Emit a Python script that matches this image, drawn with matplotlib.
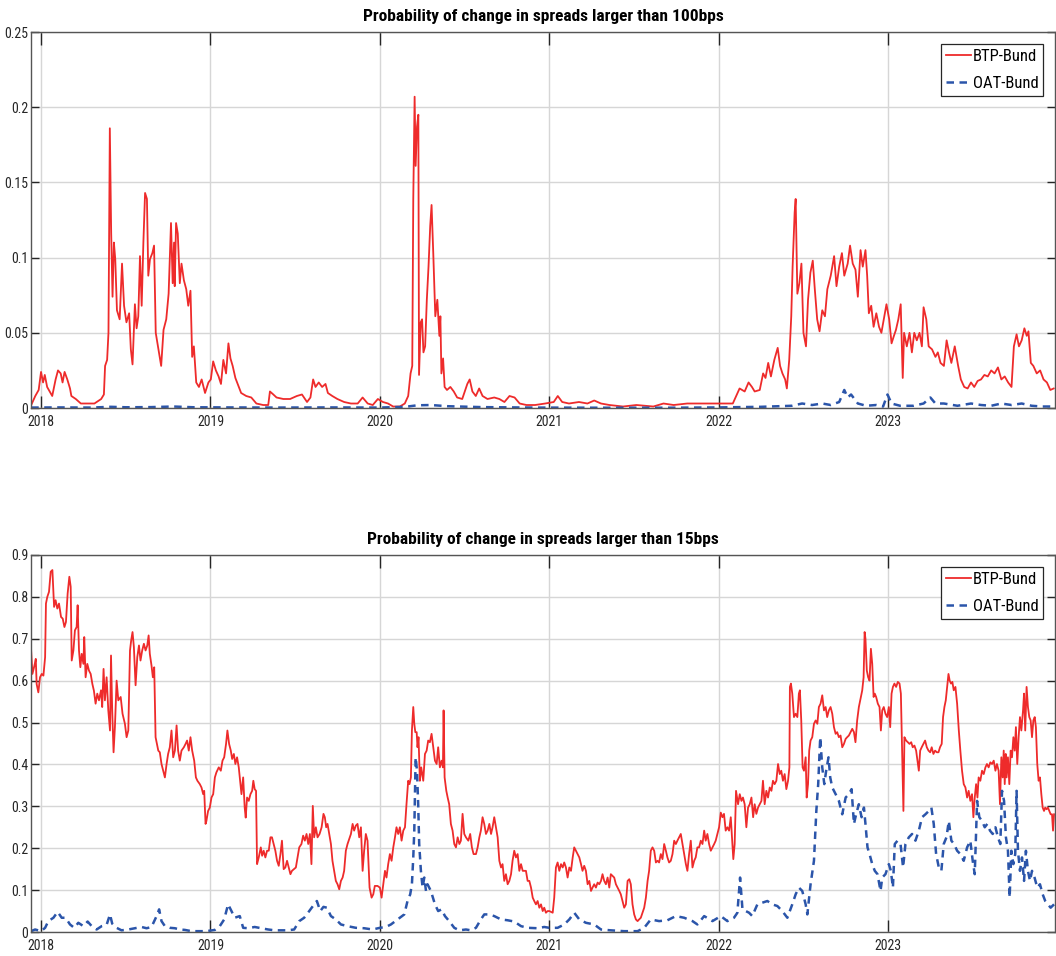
import numpy as np
import matplotlib
matplotlib.use("Agg")
from matplotlib import pyplot as plt
from matplotlib.ticker import FuncFormatter

plt.rcParams['font.family'] = ['Roboto Condensed', 'Archivo Narrow', 'DejaVu Sans']
title_fonts = ['Roboto Condensed', 'IBM Plex Sans Condensed', 'DejaVu Sans']

# time axis in decimal years
# --- probability of a change larger than 100bps ---
t_btp_100 = [
    2017.942, 2017.966, 2017.986, 2018.000, 2018.012, 2018.022, 2018.036, 2018.056, 2018.066, 2018.086,
    2018.100, 2018.116, 2018.127, 2018.139, 2018.155, 2018.171, 2018.179, 2018.205, 2018.235, 2018.275,
    2018.315, 2018.355, 2018.371, 2018.378, 2018.390, 2018.398, 2018.406, 2018.414, 2018.422, 2018.430,
    2018.438, 2018.448, 2018.464, 2018.478, 2018.490, 2018.504, 2018.520, 2018.530, 2018.540, 2018.554,
    2018.564, 2018.574, 2018.584, 2018.594, 2018.604, 2018.614, 2018.625, 2018.633, 2018.643, 2018.657,
    2018.667, 2018.677, 2018.693, 2018.709, 2018.723, 2018.739, 2018.753, 2018.767, 2018.777, 2018.785,
    2018.789, 2018.797, 2018.807, 2018.819, 2018.829, 2018.843, 2018.857, 2018.869, 2018.882, 2018.892,
    2018.902, 2018.916, 2018.932, 2018.948, 2018.968, 2018.988, 2019.002, 2019.016, 2019.032, 2019.048,
    2019.062, 2019.076, 2019.092, 2019.106, 2019.118, 2019.131, 2019.147, 2019.167, 2019.181, 2019.211,
    2019.241, 2019.271, 2019.311, 2019.341, 2019.351, 2019.371, 2019.390, 2019.430, 2019.470, 2019.510,
    2019.540, 2019.570, 2019.590, 2019.606, 2019.620, 2019.639, 2019.659, 2019.679, 2019.693, 2019.719,
    2019.749, 2019.789, 2019.829, 2019.869, 2019.898, 2019.928, 2019.958, 2019.988, 2020.018, 2020.048,
    2020.078, 2020.118, 2020.147, 2020.167, 2020.181, 2020.191, 2020.197, 2020.205, 2020.211, 2020.219,
    2020.227, 2020.231, 2020.241, 2020.249, 2020.257, 2020.267, 2020.277, 2020.287, 2020.297, 2020.305,
    2020.315, 2020.327, 2020.339, 2020.351, 2020.357, 2020.363, 2020.373, 2020.382, 2020.396, 2020.416,
    2020.436, 2020.456, 2020.486, 2020.516, 2020.530, 2020.546, 2020.566, 2020.586, 2020.606, 2020.635,
    2020.675, 2020.705, 2020.735, 2020.765, 2020.795, 2020.825, 2020.865, 2020.916, 2020.976, 2021.026,
    2021.050, 2021.076, 2021.116, 2021.175, 2021.225, 2021.265, 2021.305, 2021.355, 2021.435, 2021.514,
    2021.614, 2021.674, 2021.734, 2021.814, 2021.893, 2021.973, 2022.053, 2022.083, 2022.103, 2022.123,
    2022.153, 2022.176, 2022.196, 2022.212, 2022.242, 2022.262, 2022.276, 2022.292, 2022.308, 2022.328,
    2022.348, 2022.362, 2022.376, 2022.392, 2022.402, 2022.416, 2022.428, 2022.436, 2022.448, 2022.454,
    2022.464, 2022.476, 2022.488, 2022.500, 2022.515, 2022.527, 2022.541, 2022.555, 2022.567, 2022.581,
    2022.595, 2022.611, 2022.627, 2022.641, 2022.661, 2022.681, 2022.695, 2022.711, 2022.727, 2022.741,
    2022.761, 2022.775, 2022.791, 2022.807, 2022.821, 2022.837, 2022.850, 2022.866, 2022.876, 2022.886,
    2022.900, 2022.914, 2022.930, 2022.946, 2022.960, 2022.974, 2022.990, 2023.006, 2023.020, 2023.034,
    2023.046, 2023.060, 2023.074, 2023.086, 2023.094, 2023.110, 2023.126, 2023.140, 2023.154, 2023.169,
    2023.185, 2023.199, 2023.209, 2023.225, 2023.239, 2023.259, 2023.279, 2023.293, 2023.309, 2023.329,
    2023.345, 2023.359, 2023.373, 2023.393, 2023.413, 2023.429, 2023.449, 2023.469, 2023.489, 2023.508,
    2023.528, 2023.548, 2023.568, 2023.588, 2023.608, 2023.628, 2023.648, 2023.668, 2023.688, 2023.708,
    2023.728, 2023.742, 2023.758, 2023.772, 2023.788, 2023.804, 2023.818, 2023.828, 2023.842, 2023.857,
    2023.877, 2023.897, 2023.917, 2023.937, 2023.957, 2023.977,
]
btp_100 = [
    0.002, 0.008, 0.012, 0.024, 0.017, 0.022, 0.014, 0.010, 0.008, 0.019,
    0.025, 0.023, 0.017, 0.024, 0.019, 0.013, 0.008, 0.006, 0.003, 0.003,
    0.003, 0.006, 0.009, 0.028, 0.032, 0.050, 0.186, 0.116, 0.074, 0.110,
    0.099, 0.065, 0.059, 0.096, 0.068, 0.057, 0.063, 0.039, 0.029, 0.069,
    0.053, 0.061, 0.101, 0.068, 0.110, 0.143, 0.139, 0.088, 0.099, 0.103,
    0.108, 0.050, 0.039, 0.028, 0.052, 0.059, 0.076, 0.123, 0.083, 0.110,
    0.081, 0.123, 0.116, 0.083, 0.096, 0.085, 0.079, 0.068, 0.078, 0.034,
    0.041, 0.017, 0.014, 0.019, 0.010, 0.017, 0.019, 0.031, 0.025, 0.021,
    0.016, 0.032, 0.023, 0.043, 0.033, 0.028, 0.020, 0.014, 0.010, 0.008,
    0.007, 0.003, 0.002, 0.002, 0.011, 0.009, 0.007, 0.006, 0.006, 0.008,
    0.009, 0.004, 0.007, 0.019, 0.014, 0.017, 0.014, 0.016, 0.010, 0.008,
    0.006, 0.004, 0.003, 0.003, 0.007, 0.003, 0.002, 0.006, 0.004, 0.003,
    0.001, 0.001, 0.003, 0.008, 0.023, 0.028, 0.139, 0.207, 0.161, 0.187,
    0.195, 0.022, 0.057, 0.059, 0.037, 0.041, 0.072, 0.094, 0.121, 0.135,
    0.103, 0.061, 0.072, 0.048, 0.061, 0.023, 0.033, 0.014, 0.012, 0.014,
    0.011, 0.007, 0.006, 0.016, 0.019, 0.011, 0.008, 0.013, 0.008, 0.006,
    0.007, 0.006, 0.004, 0.008, 0.007, 0.003, 0.002, 0.002, 0.003, 0.004,
    0.008, 0.004, 0.003, 0.004, 0.003, 0.005, 0.003, 0.002, 0.001, 0.002,
    0.001, 0.003, 0.002, 0.003, 0.003, 0.003, 0.003, 0.003, 0.008, 0.013,
    0.011, 0.017, 0.014, 0.011, 0.012, 0.023, 0.020, 0.030, 0.021, 0.032,
    0.040, 0.028, 0.023, 0.019, 0.013, 0.032, 0.061, 0.094, 0.130, 0.139,
    0.076, 0.083, 0.096, 0.050, 0.041, 0.072, 0.090, 0.098, 0.079, 0.059,
    0.051, 0.065, 0.061, 0.079, 0.088, 0.101, 0.081, 0.094, 0.103, 0.088,
    0.096, 0.108, 0.096, 0.092, 0.074, 0.105, 0.094, 0.105, 0.088, 0.063,
    0.068, 0.054, 0.063, 0.054, 0.050, 0.059, 0.069, 0.059, 0.043, 0.048,
    0.052, 0.059, 0.069, 0.020, 0.050, 0.041, 0.050, 0.037, 0.050, 0.045,
    0.050, 0.041, 0.067, 0.059, 0.041, 0.039, 0.034, 0.037, 0.030, 0.028,
    0.045, 0.037, 0.030, 0.041, 0.028, 0.019, 0.014, 0.013, 0.017, 0.014,
    0.018, 0.019, 0.022, 0.021, 0.025, 0.023, 0.027, 0.019, 0.021, 0.017,
    0.014, 0.041, 0.049, 0.041, 0.045, 0.053, 0.048, 0.051, 0.030, 0.028,
    0.023, 0.025, 0.019, 0.017, 0.012, 0.013,
]

t_oat_100 = [
    2017.942, 2018.100, 2018.300, 2018.410, 2018.500, 2018.650, 2018.780, 2018.900, 2019.100, 2019.400,
    2019.700, 2020.000, 2020.150, 2020.220, 2020.300, 2020.400, 2020.600, 2020.900, 2021.300, 2021.700,
    2022.000, 2022.250, 2022.432, 2022.492, 2022.551, 2022.611, 2022.661, 2022.711, 2022.741, 2022.761,
    2022.781, 2022.821, 2022.870, 2022.930, 2022.970, 2022.996, 2023.020, 2023.070, 2023.150, 2023.209,
    2023.249, 2023.279, 2023.329, 2023.409, 2023.489, 2023.548, 2023.608, 2023.668, 2023.728, 2023.788,
    2023.847, 2023.907, 2023.977,
]
oat_100 = [
    0.0003, 0.0004, 0.0003, 0.0008, 0.0005, 0.0006, 0.0010, 0.0005, 0.0004, 0.0003,
    0.0004, 0.0003, 0.0008, 0.0018, 0.0020, 0.0012, 0.0006, 0.0003, 0.0002, 0.0002,
    0.0004, 0.0008, 0.0015, 0.003, 0.002, 0.003, 0.002, 0.004, 0.012, 0.007,
    0.009, 0.003, 0.0015, 0.002, 0.001, 0.009, 0.003, 0.0015, 0.0015, 0.003,
    0.007, 0.003, 0.003, 0.0015, 0.003, 0.002, 0.0015, 0.003, 0.002, 0.003,
    0.0015, 0.001, 0.001,
]

# --- probability of a change larger than 15bps ---
t_btp_15 = [
    2017.941, 2017.949, 2017.961, 2017.969, 2017.974, 2017.984, 2017.994, 2018.004, 2018.014, 2018.024,
    2018.029, 2018.037, 2018.047, 2018.057, 2018.067, 2018.077, 2018.086, 2018.096, 2018.106, 2018.118,
    2018.128, 2018.138, 2018.147, 2018.157, 2018.167, 2018.175, 2018.181, 2018.191, 2018.200, 2018.210,
    2018.216, 2018.224, 2018.232, 2018.240, 2018.250, 2018.255, 2018.263, 2018.273, 2018.283, 2018.293,
    2018.303, 2018.312, 2018.322, 2018.332, 2018.342, 2018.354, 2018.361, 2018.369, 2018.377, 2018.387,
    2018.397, 2018.407, 2018.413, 2018.420, 2018.428, 2018.436, 2018.446, 2018.456, 2018.470, 2018.481,
    2018.495, 2018.505, 2018.515, 2018.525, 2018.532, 2018.540, 2018.548, 2018.558, 2018.568, 2018.578,
    2018.587, 2018.597, 2018.607, 2018.617, 2018.627, 2018.635, 2018.642, 2018.652, 2018.660, 2018.668,
    2018.676, 2018.684, 2018.692, 2018.701, 2018.711, 2018.721, 2018.731, 2018.741, 2018.750, 2018.760,
    2018.770, 2018.780, 2018.790, 2018.800, 2018.809, 2018.819, 2018.829, 2018.843, 2018.853, 2018.862,
    2018.872, 2018.882, 2018.892, 2018.904, 2018.914, 2018.923, 2018.937, 2018.947, 2018.957, 2018.963,
    2018.971, 2018.976, 2018.986, 2018.996, 2019.006, 2019.016, 2019.026, 2019.035, 2019.049, 2019.061,
    2019.071, 2019.081, 2019.092, 2019.100, 2019.110, 2019.120, 2019.128, 2019.138, 2019.147, 2019.157,
    2019.167, 2019.177, 2019.183, 2019.193, 2019.202, 2019.208, 2019.216, 2019.226, 2019.236, 2019.246,
    2019.253, 2019.261, 2019.269, 2019.275, 2019.285, 2019.297, 2019.305, 2019.314, 2019.324, 2019.334,
    2019.344, 2019.354, 2019.363, 2019.373, 2019.383, 2019.393, 2019.403, 2019.413, 2019.422, 2019.432,
    2019.442, 2019.452, 2019.462, 2019.472, 2019.481, 2019.504, 2019.514, 2019.524, 2019.537, 2019.547,
    2019.557, 2019.567, 2019.577, 2019.587, 2019.596, 2019.604, 2019.612, 2019.622, 2019.632, 2019.644,
    2019.656, 2019.667, 2019.675, 2019.683, 2019.691, 2019.701, 2019.711, 2019.720, 2019.730, 2019.740,
    2019.750, 2019.760, 2019.770, 2019.780, 2019.789, 2019.799, 2019.809, 2019.819, 2019.829, 2019.839,
    2019.848, 2019.858, 2019.868, 2019.878, 2019.888, 2019.898, 2019.907, 2019.917, 2019.927, 2019.939,
    2019.951, 2019.961, 2019.970, 2019.986, 2020.000, 2020.010, 2020.020, 2020.030, 2020.039, 2020.049,
    2020.059, 2020.069, 2020.079, 2020.089, 2020.098, 2020.108, 2020.118, 2020.128, 2020.138, 2020.148,
    2020.157, 2020.167, 2020.175, 2020.183, 2020.189, 2020.197, 2020.203, 2020.209, 2020.217, 2020.222,
    2020.228, 2020.236, 2020.244, 2020.256, 2020.266, 2020.276, 2020.285, 2020.295, 2020.305, 2020.315,
    2020.325, 2020.335, 2020.344, 2020.354, 2020.364, 2020.372, 2020.376, 2020.382, 2020.392, 2020.400,
    2020.409, 2020.419, 2020.429, 2020.439, 2020.449, 2020.459, 2020.469, 2020.478, 2020.488, 2020.498,
    2020.508, 2020.522, 2020.533, 2020.543, 2020.553, 2020.567, 2020.577, 2020.587, 2020.596, 2020.606,
    2020.616, 2020.626, 2020.636, 2020.646, 2020.656, 2020.665, 2020.675, 2020.685, 2020.695, 2020.705,
    2020.715, 2020.724, 2020.734, 2020.744, 2020.754, 2020.764, 2020.774, 2020.783, 2020.793, 2020.803,
    2020.813, 2020.823, 2020.833, 2020.843, 2020.852, 2020.862, 2020.872, 2020.882, 2020.892, 2020.902,
    2020.911, 2020.921, 2020.931, 2020.941, 2020.951, 2020.961, 2020.970, 2020.980, 2020.990, 2021.000,
    2021.020, 2021.029, 2021.039, 2021.049, 2021.059, 2021.069, 2021.079, 2021.088, 2021.098, 2021.108,
    2021.118, 2021.128, 2021.138, 2021.147, 2021.157, 2021.167, 2021.177, 2021.187, 2021.196, 2021.206,
    2021.216, 2021.226, 2021.236, 2021.246, 2021.255, 2021.265, 2021.275, 2021.285, 2021.295, 2021.305,
    2021.314, 2021.324, 2021.334, 2021.344, 2021.354, 2021.363, 2021.373, 2021.383, 2021.393, 2021.403,
    2021.413, 2021.422, 2021.432, 2021.442, 2021.452, 2021.462, 2021.472, 2021.481, 2021.491, 2021.501,
    2021.511, 2021.521, 2021.530, 2021.540, 2021.550, 2021.560, 2021.570, 2021.580, 2021.589, 2021.599,
    2021.609, 2021.619, 2021.629, 2021.639, 2021.648, 2021.658, 2021.668, 2021.678, 2021.688, 2021.697,
    2021.707, 2021.717, 2021.727, 2021.737, 2021.747, 2021.756, 2021.766, 2021.776, 2021.786, 2021.796,
    2021.806, 2021.815, 2021.825, 2021.835, 2021.845, 2021.855, 2021.864, 2021.874, 2021.884, 2021.894,
    2021.904, 2021.914, 2021.923, 2021.933, 2021.943, 2021.953, 2021.963, 2021.973, 2021.982, 2021.992,
    2022.002, 2022.012, 2022.022, 2022.031, 2022.041, 2022.051, 2022.061, 2022.071, 2022.081, 2022.086,
    2022.094, 2022.102, 2022.114, 2022.124, 2022.134, 2022.143, 2022.153, 2022.163, 2022.173, 2022.183,
    2022.193, 2022.203, 2022.212, 2022.222, 2022.232, 2022.242, 2022.252, 2022.261, 2022.271, 2022.281,
    2022.291, 2022.301, 2022.311, 2022.320, 2022.330, 2022.340, 2022.350, 2022.360, 2022.369, 2022.379,
    2022.389, 2022.399, 2022.409, 2022.417, 2022.420, 2022.426, 2022.434, 2022.444, 2022.454, 2022.464,
    2022.473, 2022.479, 2022.487, 2022.495, 2022.503, 2022.513, 2022.519, 2022.527, 2022.534, 2022.542,
    2022.552, 2022.562, 2022.572, 2022.582, 2022.591, 2022.601, 2022.611, 2022.621, 2022.631, 2022.640,
    2022.650, 2022.660, 2022.670, 2022.680, 2022.690, 2022.699, 2022.709, 2022.719, 2022.729, 2022.739,
    2022.749, 2022.758, 2022.768, 2022.778, 2022.788, 2022.798, 2022.807, 2022.817, 2022.827, 2022.837,
    2022.847, 2022.855, 2022.861, 2022.866, 2022.874, 2022.882, 2022.890, 2022.898, 2022.906, 2022.914,
    2022.921, 2022.929, 2022.939, 2022.949, 2022.957, 2022.965, 2022.974, 2022.984, 2022.994, 2023.004,
    2023.012, 2023.020, 2023.028, 2023.037, 2023.047, 2023.057, 2023.067, 2023.075, 2023.083, 2023.090,
    2023.096, 2023.106, 2023.116, 2023.126, 2023.136, 2023.145, 2023.155, 2023.165, 2023.173, 2023.181,
    2023.189, 2023.198, 2023.208, 2023.218, 2023.228, 2023.238, 2023.248, 2023.257, 2023.267, 2023.277,
    2023.287, 2023.297, 2023.306, 2023.316, 2023.324, 2023.332, 2023.340, 2023.348, 2023.356, 2023.363,
    2023.371, 2023.379, 2023.387, 2023.397, 2023.407, 2023.417, 2023.426, 2023.436, 2023.446, 2023.456,
    2023.466, 2023.475, 2023.485, 2023.495, 2023.503, 2023.511, 2023.519, 2023.527, 2023.534, 2023.544,
    2023.554, 2023.564, 2023.574, 2023.583, 2023.593, 2023.603, 2023.613, 2023.623, 2023.633, 2023.642,
    2023.652, 2023.660, 2023.668, 2023.676, 2023.682, 2023.688, 2023.694, 2023.699, 2023.707, 2023.715,
    2023.723, 2023.731, 2023.739, 2023.747, 2023.754, 2023.762, 2023.770, 2023.778, 2023.786, 2023.796,
    2023.802, 2023.809, 2023.817, 2023.825, 2023.833, 2023.841, 2023.849, 2023.857, 2023.865, 2023.872,
    2023.880, 2023.888, 2023.896, 2023.904, 2023.912, 2023.920, 2023.927, 2023.935, 2023.943, 2023.951,
    2023.959, 2023.967, 2023.973, 2023.979,
]
btp_15 = [
    0.676, 0.616, 0.636, 0.652, 0.592, 0.572, 0.608, 0.616, 0.612, 0.656,
    0.784, 0.800, 0.812, 0.860, 0.864, 0.776, 0.792, 0.772, 0.784, 0.752,
    0.748, 0.728, 0.740, 0.808, 0.848, 0.824, 0.648, 0.672, 0.720, 0.728,
    0.780, 0.672, 0.632, 0.664, 0.640, 0.704, 0.608, 0.640, 0.624, 0.616,
    0.592, 0.576, 0.545, 0.569, 0.553, 0.577, 0.537, 0.628, 0.553, 0.608,
    0.529, 0.481, 0.660, 0.529, 0.429, 0.489, 0.600, 0.553, 0.561, 0.521,
    0.497, 0.465, 0.481, 0.672, 0.696, 0.716, 0.680, 0.589, 0.656, 0.684,
    0.648, 0.672, 0.688, 0.672, 0.684, 0.708, 0.664, 0.636, 0.608, 0.632,
    0.465, 0.449, 0.433, 0.429, 0.401, 0.385, 0.369, 0.401, 0.425, 0.441,
    0.481, 0.417, 0.433, 0.493, 0.433, 0.409, 0.433, 0.441, 0.449, 0.457,
    0.433, 0.465, 0.433, 0.409, 0.369, 0.361, 0.353, 0.345, 0.329, 0.337,
    0.258, 0.265, 0.289, 0.297, 0.321, 0.329, 0.369, 0.381, 0.393, 0.385,
    0.409, 0.417, 0.449, 0.481, 0.449, 0.433, 0.413, 0.425, 0.401, 0.417,
    0.393, 0.353, 0.329, 0.369, 0.297, 0.273, 0.321, 0.313, 0.329, 0.337,
    0.361, 0.341, 0.337, 0.162, 0.178, 0.202, 0.182, 0.194, 0.178, 0.194,
    0.194, 0.226, 0.226, 0.210, 0.194, 0.170, 0.158, 0.186, 0.218, 0.150,
    0.154, 0.170, 0.154, 0.138, 0.146, 0.154, 0.178, 0.202, 0.210, 0.230,
    0.218, 0.234, 0.210, 0.234, 0.162, 0.301, 0.226, 0.250, 0.226, 0.234,
    0.250, 0.282, 0.274, 0.250, 0.258, 0.234, 0.210, 0.170, 0.146, 0.122,
    0.114, 0.102, 0.122, 0.130, 0.146, 0.194, 0.210, 0.222, 0.234, 0.258,
    0.242, 0.254, 0.258, 0.226, 0.250, 0.146, 0.194, 0.234, 0.218, 0.106,
    0.082, 0.090, 0.110, 0.110, 0.106, 0.082, 0.114, 0.146, 0.130, 0.162,
    0.186, 0.170, 0.202, 0.226, 0.250, 0.234, 0.250, 0.218, 0.242, 0.250,
    0.305, 0.361, 0.353, 0.369, 0.481, 0.537, 0.497, 0.477, 0.477, 0.441,
    0.465, 0.361, 0.393, 0.361, 0.425, 0.433, 0.457, 0.453, 0.473, 0.441,
    0.409, 0.401, 0.441, 0.393, 0.409, 0.393, 0.529, 0.369, 0.337, 0.321,
    0.305, 0.258, 0.242, 0.210, 0.202, 0.226, 0.210, 0.218, 0.282, 0.234,
    0.226, 0.218, 0.234, 0.202, 0.186, 0.186, 0.202, 0.226, 0.242, 0.274,
    0.258, 0.234, 0.242, 0.258, 0.234, 0.250, 0.274, 0.250, 0.226, 0.170,
    0.154, 0.162, 0.122, 0.138, 0.114, 0.122, 0.138, 0.170, 0.194, 0.178,
    0.186, 0.146, 0.162, 0.146, 0.146, 0.146, 0.122, 0.122, 0.106, 0.082,
    0.074, 0.066, 0.074, 0.058, 0.066, 0.050, 0.058, 0.046, 0.050, 0.050,
    0.046, 0.082, 0.154, 0.166, 0.146, 0.162, 0.154, 0.166, 0.154, 0.130,
    0.154, 0.146, 0.178, 0.202, 0.194, 0.186, 0.178, 0.162, 0.146, 0.158,
    0.146, 0.114, 0.122, 0.098, 0.106, 0.114, 0.106, 0.118, 0.114, 0.122,
    0.138, 0.122, 0.114, 0.130, 0.106, 0.138, 0.134, 0.130, 0.114, 0.106,
    0.098, 0.090, 0.074, 0.058, 0.066, 0.122, 0.126, 0.114, 0.066, 0.042,
    0.030, 0.026, 0.030, 0.034, 0.046, 0.058, 0.082, 0.122, 0.146, 0.194,
    0.202, 0.194, 0.166, 0.170, 0.166, 0.186, 0.174, 0.210, 0.194, 0.178,
    0.166, 0.170, 0.186, 0.218, 0.210, 0.218, 0.226, 0.234, 0.210, 0.186,
    0.162, 0.146, 0.186, 0.218, 0.154, 0.170, 0.178, 0.202, 0.202, 0.218,
    0.210, 0.242, 0.218, 0.234, 0.210, 0.194, 0.202, 0.210, 0.218, 0.234,
    0.250, 0.285, 0.274, 0.282, 0.242, 0.250, 0.242, 0.274, 0.210, 0.174,
    0.210, 0.337, 0.305, 0.329, 0.313, 0.321, 0.305, 0.250, 0.297, 0.305,
    0.321, 0.274, 0.305, 0.282, 0.297, 0.305, 0.313, 0.361, 0.305, 0.337,
    0.321, 0.345, 0.337, 0.361, 0.353, 0.361, 0.401, 0.377, 0.385, 0.361,
    0.377, 0.341, 0.361, 0.393, 0.585, 0.593, 0.569, 0.513, 0.521, 0.513,
    0.569, 0.577, 0.505, 0.393, 0.385, 0.417, 0.321, 0.353, 0.433, 0.457,
    0.465, 0.497, 0.505, 0.497, 0.537, 0.545, 0.565, 0.529, 0.537, 0.513,
    0.529, 0.537, 0.521, 0.489, 0.473, 0.477, 0.465, 0.469, 0.441, 0.449,
    0.461, 0.465, 0.469, 0.477, 0.485, 0.477, 0.453, 0.505, 0.537, 0.557,
    0.577, 0.608, 0.716, 0.700, 0.624, 0.608, 0.600, 0.676, 0.640, 0.561,
    0.569, 0.561, 0.545, 0.537, 0.481, 0.529, 0.537, 0.521, 0.513, 0.537,
    0.489, 0.569, 0.585, 0.593, 0.585, 0.597, 0.593, 0.569, 0.417, 0.289,
    0.465, 0.457, 0.453, 0.449, 0.453, 0.441, 0.445, 0.433, 0.409, 0.385,
    0.433, 0.441, 0.449, 0.457, 0.441, 0.433, 0.429, 0.441, 0.425, 0.433,
    0.429, 0.429, 0.441, 0.449, 0.513, 0.537, 0.553, 0.585, 0.616, 0.600,
    0.593, 0.597, 0.577, 0.585, 0.545, 0.481, 0.433, 0.385, 0.353, 0.345,
    0.321, 0.337, 0.313, 0.329, 0.274, 0.321, 0.353, 0.321, 0.369, 0.361,
    0.385, 0.377, 0.393, 0.401, 0.393, 0.405, 0.401, 0.409, 0.385, 0.401,
    0.385, 0.305, 0.417, 0.369, 0.433, 0.353, 0.425, 0.369, 0.417, 0.353,
    0.433, 0.417, 0.465, 0.433, 0.489, 0.401, 0.465, 0.513, 0.481, 0.529,
    0.569, 0.481, 0.585, 0.537, 0.513, 0.505, 0.465, 0.505, 0.513, 0.489,
    0.401, 0.361, 0.369, 0.329, 0.297, 0.289, 0.297, 0.293, 0.297, 0.289,
    0.281, 0.281, 0.242, 0.281,
]

t_oat_15 = [
    2017.941, 2017.965, 2018.000, 2018.024, 2018.043, 2018.073, 2018.098, 2018.122, 2018.145, 2018.171,
    2018.196, 2018.220, 2018.250, 2018.275, 2018.299, 2018.328, 2018.358, 2018.387, 2018.407, 2018.420,
    2018.446, 2018.475, 2018.515, 2018.554, 2018.593, 2018.623, 2018.652, 2018.682, 2018.697, 2018.711,
    2018.731, 2018.760, 2018.790, 2018.819, 2018.849, 2018.888, 2018.927, 2018.976, 2019.026, 2019.055,
    2019.081, 2019.104, 2019.124, 2019.143, 2019.173, 2019.193, 2019.222, 2019.261, 2019.301, 2019.340,
    2019.379, 2019.418, 2019.455, 2019.494, 2019.524, 2019.553, 2019.583, 2019.612, 2019.628, 2019.648,
    2019.667, 2019.687, 2019.711, 2019.740, 2019.770, 2019.809, 2019.858, 2019.907, 2019.957, 2020.000,
    2020.035, 2020.065, 2020.104, 2020.144, 2020.163, 2020.179, 2020.189, 2020.197, 2020.203, 2020.211,
    2020.219, 2020.226, 2020.232, 2020.242, 2020.252, 2020.262, 2020.272, 2020.281, 2020.301, 2020.325,
    2020.344, 2020.364, 2020.384, 2020.409, 2020.439, 2020.469, 2020.508, 2020.537, 2020.567, 2020.596,
    2020.616, 2020.646, 2020.675, 2020.715, 2020.754, 2020.793, 2020.833, 2020.872, 2020.931, 2020.970,
    2021.000, 2021.049, 2021.088, 2021.118, 2021.147, 2021.177, 2021.216, 2021.265, 2021.305, 2021.363,
    2021.442, 2021.521, 2021.560, 2021.599, 2021.648, 2021.697, 2021.747, 2021.796, 2021.845, 2021.874,
    2021.914, 2021.963, 2022.012, 2022.051, 2022.090, 2022.110, 2022.126, 2022.140, 2022.159, 2022.179,
    2022.198, 2022.228, 2022.257, 2022.287, 2022.316, 2022.346, 2022.375, 2022.405, 2022.434, 2022.454,
    2022.473, 2022.493, 2022.513, 2022.523, 2022.542, 2022.562, 2022.576, 2022.587, 2022.599, 2022.611,
    2022.623, 2022.634, 2022.648, 2022.658, 2022.670, 2022.690, 2022.709, 2022.729, 2022.749, 2022.768,
    2022.784, 2022.798, 2022.811, 2022.827, 2022.843, 2022.857, 2022.866, 2022.878, 2022.890, 2022.906,
    2022.921, 2022.937, 2022.955, 2022.965, 2022.984, 2023.004, 2023.016, 2023.028, 2023.039, 2023.055,
    2023.073, 2023.088, 2023.102, 2023.122, 2023.141, 2023.161, 2023.181, 2023.200, 2023.220, 2023.240,
    2023.255, 2023.269, 2023.283, 2023.299, 2023.314, 2023.328, 2023.344, 2023.358, 2023.373, 2023.389,
    2023.407, 2023.426, 2023.446, 2023.466, 2023.485, 2023.499, 2023.511, 2023.525, 2023.538, 2023.554,
    2023.570, 2023.585, 2023.601, 2023.617, 2023.633, 2023.648, 2023.662, 2023.672, 2023.684, 2023.695,
    2023.707, 2023.717, 2023.727, 2023.739, 2023.750, 2023.758, 2023.766, 2023.778, 2023.790, 2023.802,
    2023.813, 2023.825, 2023.837, 2023.849, 2023.864, 2023.880, 2023.896, 2023.912, 2023.927, 2023.943,
    2023.959, 2023.979,
]
oat_15 = [
    0.002, 0.006, 0.002, 0.010, 0.026, 0.034, 0.048, 0.034, 0.034, 0.018,
    0.010, 0.022, 0.014, 0.025, 0.014, 0.006, 0.014, 0.017, 0.042, 0.020,
    0.010, 0.004, 0.006, 0.009, 0.012, 0.009, 0.012, 0.038, 0.054, 0.026,
    0.014, 0.010, 0.009, 0.006, 0.005, 0.002, 0.002, 0.002, 0.005, 0.014,
    0.030, 0.066, 0.050, 0.034, 0.038, 0.010, 0.009, 0.012, 0.009, 0.006,
    0.004, 0.004, 0.004, 0.006, 0.026, 0.034, 0.050, 0.066, 0.074, 0.050,
    0.060, 0.058, 0.038, 0.030, 0.018, 0.014, 0.010, 0.009, 0.006, 0.010,
    0.012, 0.018, 0.030, 0.042, 0.074, 0.090, 0.114, 0.178, 0.242, 0.417,
    0.385, 0.305, 0.210, 0.146, 0.106, 0.130, 0.098, 0.114, 0.098, 0.066,
    0.050, 0.054, 0.038, 0.026, 0.010, 0.004, 0.006, 0.004, 0.010, 0.030,
    0.042, 0.042, 0.038, 0.030, 0.028, 0.025, 0.014, 0.010, 0.009, 0.012,
    0.010, 0.010, 0.018, 0.030, 0.046, 0.030, 0.022, 0.018, 0.006, 0.004,
    0.002, 0.002, 0.010, 0.030, 0.026, 0.028, 0.038, 0.034, 0.026, 0.018,
    0.038, 0.026, 0.038, 0.026, 0.034, 0.046, 0.130, 0.054, 0.050, 0.046,
    0.038, 0.066, 0.070, 0.074, 0.066, 0.062, 0.050, 0.034, 0.066, 0.090,
    0.106, 0.098, 0.066, 0.042, 0.114, 0.170, 0.289, 0.353, 0.465, 0.393,
    0.353, 0.385, 0.417, 0.369, 0.345, 0.329, 0.313, 0.281, 0.321, 0.329,
    0.341, 0.258, 0.281, 0.305, 0.274, 0.297, 0.258, 0.202, 0.186, 0.162,
    0.146, 0.138, 0.098, 0.130, 0.138, 0.162, 0.146, 0.106, 0.210, 0.218,
    0.210, 0.154, 0.210, 0.226, 0.234, 0.218, 0.242, 0.274, 0.281, 0.289,
    0.297, 0.258, 0.186, 0.154, 0.146, 0.210, 0.226, 0.265, 0.218, 0.210,
    0.194, 0.186, 0.170, 0.202, 0.218, 0.170, 0.138, 0.313, 0.274, 0.265,
    0.250, 0.258, 0.242, 0.234, 0.250, 0.226, 0.210, 0.337, 0.313, 0.226,
    0.194, 0.082, 0.194, 0.162, 0.186, 0.337, 0.194, 0.146, 0.178, 0.122,
    0.194, 0.146, 0.122, 0.146, 0.130, 0.106, 0.114, 0.090, 0.074, 0.066,
    0.058, 0.066,
]

years = [2018, 2019, 2020, 2021, 2022, 2023]
x_start, x_end = 2017.941, 2023.985

red = '#EE2B2B'
blue = '#2B55AA'
axis_grey = '#262626'


def style_axes(ax, ymax, ystep, title):
    ax.set_xlim(x_start, x_end)
    ax.set_ylim(0, ymax)
    ax.set_xticks(years)
    ax.set_xticklabels([str(y) for y in years])
    ax.set_yticks(np.round(np.arange(0, ymax + ystep / 2, ystep), 3))
    ax.yaxis.set_major_formatter(FuncFormatter(lambda v, pos: '%g' % v))
    ax.tick_params(axis='both', direction='in', colors=axis_grey, labelsize=10,
                   top=True, right=True, width=1.0)
    ax.tick_params(axis='x', length=9, pad=5)
    ax.tick_params(axis='y', length=6, pad=2)
    ax.grid(True, color='#d6d6d6', linewidth=1.0)
    ax.set_axisbelow(True)
    for sp in ax.spines.values():
        sp.set_color('#555555')
        sp.set_linewidth(1.0)
    ax.set_title(title, fontsize=12.5, fontweight='bold', family=title_fonts, pad=8)
    leg = ax.legend(loc='upper right', fontsize=12, frameon=True, fancybox=False,
                    framealpha=1, edgecolor='#262626', handlelength=1.5,
                    handletextpad=0.1, borderpad=0.3, labelspacing=0.75,
                    borderaxespad=0.7)
    leg.get_frame().set_linewidth(0.9)


fig = plt.figure(figsize=(10.56, 9.56), dpi=100)

ax1 = fig.add_axes([0.0294, 0.5732, 0.9697, 0.3933])
ax1.plot(t_btp_100, btp_100, color=red, linewidth=1.3, label='BTP-Bund')
ax1.plot(t_oat_100, oat_100, color=blue, linewidth=1.8, linestyle=(0, (3, 2.2)), label='OAT-Bund')
style_axes(ax1, 0.25, 0.05, 'Probability of change in spreads larger than 100bps')

ax2 = fig.add_axes([0.0294, 0.0251, 0.9697, 0.3944])
ax2.plot(t_btp_15, btp_15, color=red, linewidth=1.3, label='BTP-Bund')
ax2.plot(t_oat_15, oat_15, color=blue, linewidth=1.8, linestyle=(0, (3, 2.2)), label='OAT-Bund')
style_axes(ax2, 0.9, 0.1, 'Probability of change in spreads larger than 15bps')

fig.savefig('out.png', dpi=100)
